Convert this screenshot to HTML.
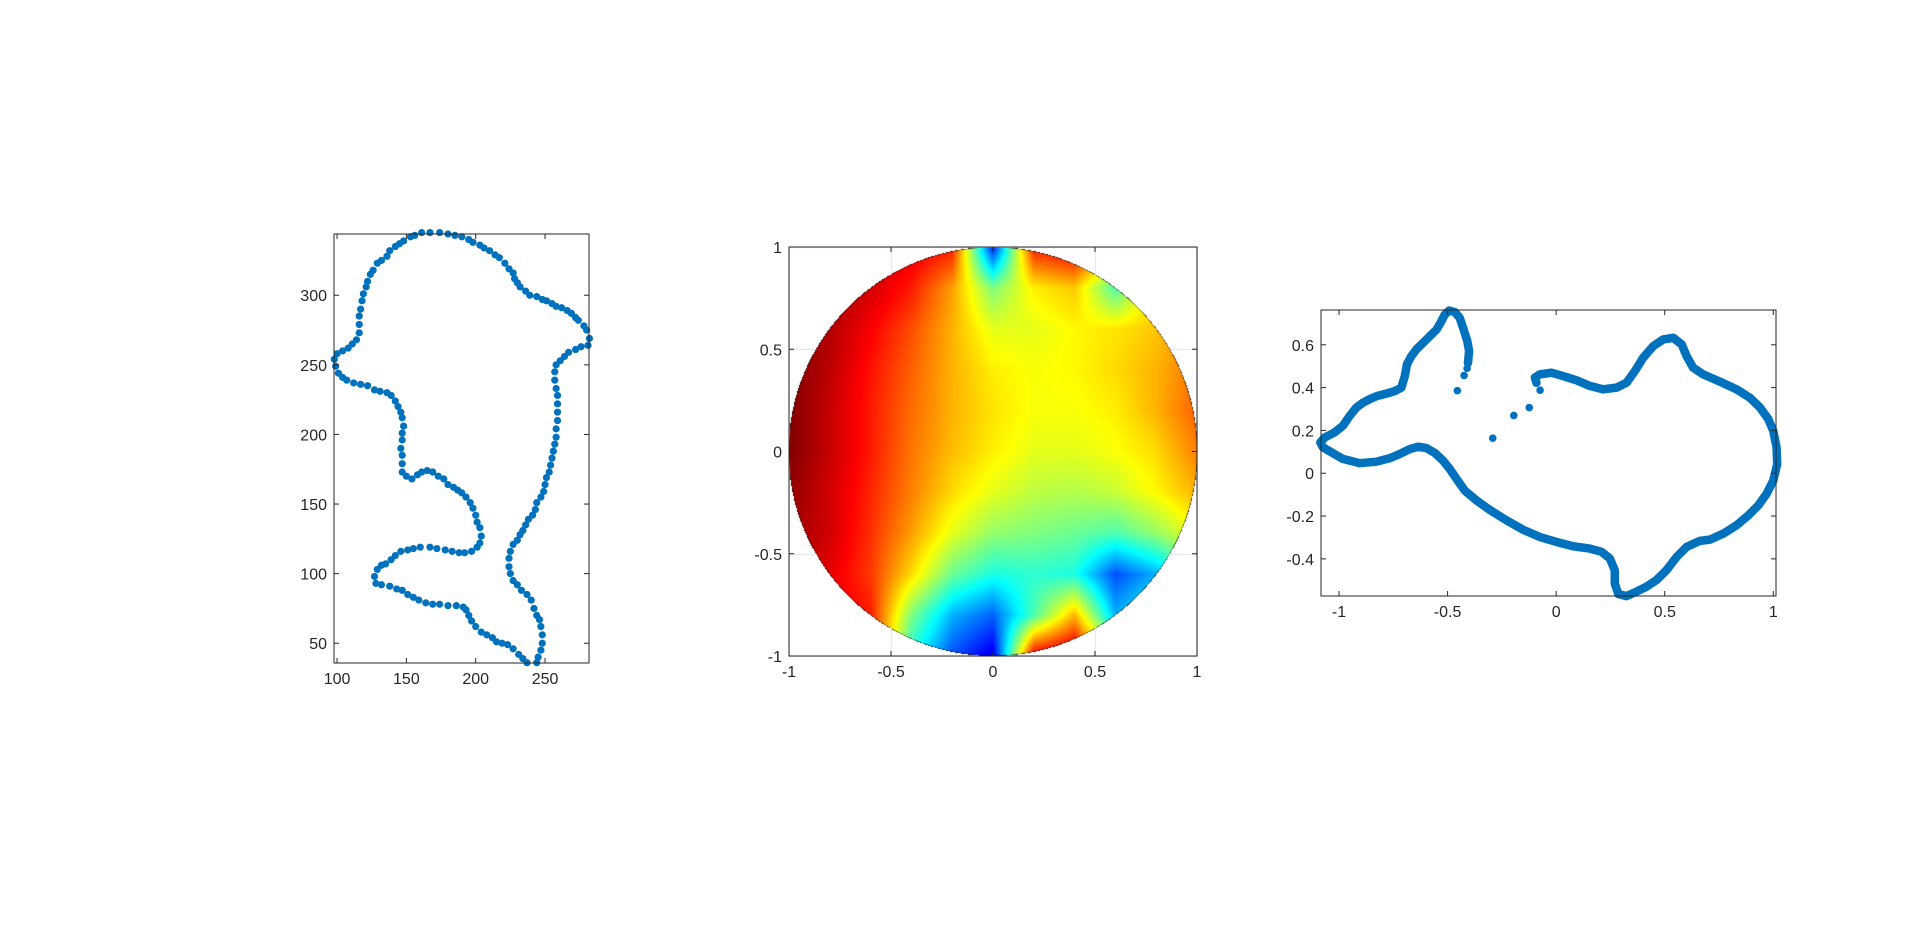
<!DOCTYPE html>
<html><head><meta charset="utf-8">
<style>
html,body{margin:0;padding:0;background:#fff;width:1920px;height:937px;overflow:hidden}
#heat{position:absolute;left:0;top:0}
#svg{position:absolute;left:0;top:0}
text{font-family:"Liberation Sans",Arial,sans-serif;font-size:16px;fill:#262626}
</style></head>
<body>
<canvas id="heat" width="1920" height="937"></canvas>
<svg id="svg" width="1920" height="937" xmlns="http://www.w3.org/2000/svg"></svg>
<script>
// ---- Plot 1 data (dolphin outline) ----
const p1x=[156,161,167,174,180,185,190,195,198,203,206,210,214,217,221,224,227,228,230,232,236,239,244,248,251,255,258,262,266,269,272,274,278,280,282,281,276,272,267,264,261,258,257,257,258,259,259,259,259,258,258,257,256,255,254,253,251,250,249,247,244,243,241,238,236,234,232,230,227,225,224,224,225,227,230,233,237,240,242,244,246,247,248,248,247,245,244,237,234,231,227,223,219,215,212,208,204,200,197,195,193,191,186,180,174,169,164,159,155,151,147,143,138,132,128,127,129,132,135,139,142,146,151,155,160,167,172,178,183,188,192,197,201,203,204,203,201,200,198,196,193,190,187,184,180,177,173,169,165,161,158,154,150,147,147,147,146,147,147,148,147,146,144,142,139,136,131,127,122,117,112,107,104,101,99,98,100,104,108,111,114,116,116,116,117,118,119,121,122,124,126,129,132,136,138,142,145,148,153];
const p1y=[343,345,345,345,344,343,342,340,338,336,334,332,329,327,323,319,316,312,309,306,303,300,299,297,296,294,292,291,289,287,284,282,278,275,269,264,263,261,259,256,253,250,245,239,233,228,222,216,210,204,198,193,188,183,178,173,169,164,159,155,151,146,142,139,135,131,128,124,121,116,111,105,100,95,92,88,85,81,75,70,67,62,56,50,45,40,36,36,39,42,46,49,50,51,54,56,58,62,66,70,74,76,77,77,78,78,79,81,83,85,88,89,91,92,93,98,103,106,107,110,113,116,117,118,119,119,118,117,116,115,115,116,119,122,127,133,137,142,147,151,155,158,160,162,164,168,170,173,174,173,171,168,170,173,179,185,190,196,201,206,212,216,220,224,228,230,231,232,235,236,237,239,241,244,249,254,258,260,262,265,268,273,279,285,290,296,301,306,310,315,318,323,325,328,332,335,337,339,342];
const p1XTicks=[100,150,200,250];
const p1YTicks=[50,100,150,200,250,300];
// ---- Plot 2 data (heatmap grid, rows y=1..-1, cols x=-1..1, step 0.2) ----
const heatRows=[
[1.0,0.97,0.93,0.9,0.85,0.15,0.85,0.9,0.7,0.7,0.72],
[1.0,0.97,0.92,0.85,0.72,0.5,0.64,0.68,0.45,0.68,0.72],
[1.0,0.95,0.88,0.8,0.7,0.6,0.6,0.63,0.65,0.68,0.75],
[1.0,0.94,0.86,0.78,0.7,0.64,0.62,0.63,0.66,0.7,0.76],
[1.0,0.93,0.85,0.77,0.7,0.65,0.62,0.62,0.64,0.7,0.78],
[1.0,0.93,0.85,0.76,0.69,0.64,0.6,0.6,0.62,0.66,0.75],
[0.98,0.92,0.84,0.75,0.66,0.6,0.56,0.55,0.57,0.63,0.7],
[0.97,0.92,0.83,0.72,0.6,0.52,0.5,0.48,0.45,0.52,0.62],
[0.96,0.9,0.82,0.66,0.48,0.4,0.42,0.4,0.2,0.3,0.5],
[0.95,0.9,0.85,0.5,0.3,0.22,0.45,0.7,0.3,0.4,0.5],
[0.95,0.9,0.85,0.4,0.2,0.1,0.9,0.95,0.6,0.5,0.5]];
const p2Ticks=[-1,-0.5,0,0.5,1];
// ---- Plot 3 data (mapped outline) ----
const p3x=[-0.406,-0.401,-0.409,-0.426,-0.444,-0.467,-0.493,-0.513,-0.533,-0.551,-0.582,-0.613,-0.644,-0.667,-0.687,-0.697,-0.713,-0.743,-0.782,-0.825,-0.859,-0.889,-0.920,-0.951,-0.982,-1.020,-1.066,-1.086,-1.074,-1.035,-0.982,-0.905,-0.828,-0.767,-0.720,-0.674,-0.636,-0.598,-0.559,-0.521,-0.490,-0.459,-0.421,-0.367,-0.306,-0.229,-0.152,-0.075,0.002,0.078,0.155,0.209,0.247,0.270,0.270,0.286,0.324,0.370,0.416,0.462,0.508,0.555,0.601,0.662,0.708,0.770,0.831,0.885,0.931,0.969,1.000,1.018,1.015,1.000,0.977,0.939,0.892,0.831,0.754,0.677,0.631,0.601,0.578,0.539,0.493,0.447,0.401,0.363,0.324,0.278,0.217,0.155,0.094,0.032,-0.022,-0.075,-0.098,-0.091];
const p3y=[0.516,0.571,0.617,0.671,0.726,0.753,0.760,0.741,0.702,0.671,0.640,0.609,0.578,0.547,0.509,0.454,0.400,0.384,0.372,0.361,0.346,0.330,0.307,0.268,0.222,0.191,0.167,0.144,0.121,0.098,0.067,0.047,0.054,0.070,0.090,0.113,0.124,0.118,0.095,0.059,0.020,-0.026,-0.081,-0.127,-0.171,-0.220,-0.264,-0.298,-0.321,-0.341,-0.352,-0.367,-0.398,-0.453,-0.515,-0.564,-0.574,-0.553,-0.530,-0.499,-0.453,-0.391,-0.344,-0.316,-0.310,-0.282,-0.243,-0.197,-0.150,-0.096,-0.034,0.043,0.121,0.198,0.253,0.307,0.353,0.392,0.428,0.462,0.493,0.547,0.602,0.633,0.625,0.594,0.540,0.478,0.423,0.400,0.392,0.408,0.434,0.454,0.470,0.462,0.447,0.423];
const p3DotX=[-0.410,-0.424,-0.455,-0.292,-0.195,-0.124,-0.074];
const p3DotY=[0.490,0.457,0.386,0.164,0.270,0.307,0.388];
const p3XTicks=[-1,-0.5,0,0.5,1];
const p3YTicks=[-0.4,-0.2,0,0.2,0.4,0.6];

const NS='http://www.w3.org/2000/svg';
const svg=document.getElementById('svg');
function mk(tag,attrs,parent){const e=document.createElementNS(NS,tag);for(const k in attrs)e.setAttribute(k,attrs[k]);(parent||svg).appendChild(e);return e;}
function scale(d0,d1,p0,p1){return v=>p0+(v-d0)*(p1-p0)/(d1-d0);}
function fmt(v){return String(Math.round(v*10)/10);}

function frame(name,L,T,R,B,xs,ys,xt,yt){
  const g=mk('g',{});
  
  
  const r=mk('rect',{x:L,y:T,width:R-L,height:B-T,fill:'none',stroke:'#262626','stroke-width':1},g);
  
  const tl=5;
  xt.forEach(v=>{const x=xs(v);
    mk('line',{x1:x,x2:x,y1:B,y2:B-tl,stroke:'#262626'},g);
    mk('line',{x1:x,x2:x,y1:T,y2:T+tl,stroke:'#262626'},g);
    const t=mk('text',{x:x,y:B+21,'text-anchor':'middle'},g);t.textContent=fmt(v);
    });
  yt.forEach(v=>{const y=ys(v);
    mk('line',{y1:y,y2:y,x1:L,x2:L+tl,stroke:'#262626'},g);
    mk('line',{y1:y,y2:y,x1:R,x2:R-tl,stroke:'#262626'},g);
    const t=mk('text',{x:L-7,y:y+6,'text-anchor':'end'},g);t.textContent=fmt(v);
    });
}

// Plot 1
(function(){
  const L=334,T=234,R=589,B=663;
  const xs=scale(97.8,281.7,L,R), ys=scale(35.8,344,B,T);
  const g=mk('g',{});
  
  
  p1x.forEach((v,i)=>{const c=mk('circle',{cx:xs(v),cy:ys(p1y[i]),r:3.6,fill:'#0072BD'},g);
    });
  frame('plot1',L,T,R,B,xs,ys,p1XTicks,p1YTicks);
})();

// Plot 2
(function(){
  const L=789,T=247,R=1197,B=656;
  const xs=scale(-1,1,L,R), ys=scale(-1,1,B,T);
  const ctx=document.getElementById('heat').getContext('2d');
  ctx.strokeStyle='#e0e0e0';ctx.lineWidth=1;
  p2Ticks.forEach(v=>{ctx.beginPath();ctx.moveTo(Math.round(xs(v))+0.5,T);ctx.lineTo(Math.round(xs(v))+0.5,B);ctx.stroke();
    ctx.beginPath();ctx.moveTo(L,Math.round(ys(v))+0.5);ctx.lineTo(R,Math.round(ys(v))+0.5);ctx.stroke();});
  const jet=v=>{const f=t=>Math.max(0,Math.min(1,t));
    return [f(1.5-Math.abs(4*v-3)),f(1.5-Math.abs(4*v-2)),f(1.5-Math.abs(4*v-1))].map(c=>Math.round(c*255));};
  const n=heatRows.length;
  const cx=xs(0),cy=ys(0),rad=(R-L)/2;
  const x0=Math.floor(L),y0=Math.floor(T),w=Math.ceil(R-L)+1,h=Math.ceil(B-T)+1;
  const img=ctx.getImageData(x0,y0,w,h);
  for(let py=0;py<h;py++)for(let px=0;px<w;px++){
    const X=x0+px+0.5,Y=y0+py+0.5;
    const dx=X-cx,dy=Y-cy,d=Math.sqrt(dx*dx+dy*dy);
    if(d>rad+0.5)continue;
    const gx=(X-L)/(R-L)*(n-1), gy=(Y-T)/(B-T)*(n-1);
    let i=Math.min(n-2,Math.max(0,Math.floor(gx))), j=Math.min(n-2,Math.max(0,Math.floor(gy)));
    const fx=Math.min(1,Math.max(0,gx-i)), fy=Math.min(1,Math.max(0,gy-j));
    const v=heatRows[j][i]*(1-fx)*(1-fy)+heatRows[j][i+1]*fx*(1-fy)+heatRows[j+1][i]*(1-fx)*fy+heatRows[j+1][i+1]*fx*fy;
    const c=jet(v),k=(py*w+px)*4,a=Math.min(1,rad+0.5-d);
    img.data[k]=img.data[k]*(1-a)+c[0]*a;img.data[k+1]=img.data[k+1]*(1-a)+c[1]*a;img.data[k+2]=img.data[k+2]*(1-a)+c[2]*a;img.data[k+3]=255;
  }
  ctx.putImageData(img,x0,y0);
  frame('plot2',L,T,R,B,xs,ys,p2Ticks,p2Ticks);
})();

// Plot 3
(function(){
  const L=1321,T=310,R=1776,B=596;
  const xs=scale(-1.083,1.0125,L,R), ys=scale(-0.5735,0.7627,B,T);
  const pts=p3x.map((v,i)=>xs(v)+','+ys(p3y[i])).join(' ');
  const pl=mk('polyline',{points:pts,fill:'none',stroke:'#0072BD','stroke-width':8.5,'stroke-linejoin':'round','stroke-linecap':'round'});
  
  
  p3DotX.forEach((v,i)=>{const c=mk('circle',{cx:xs(v),cy:ys(p3DotY[i]),r:3.8,fill:'#0072BD'});
    });
  frame('plot3',L,T,R,B,xs,ys,p3XTicks,p3YTicks);
})();
</script>
</body></html>
